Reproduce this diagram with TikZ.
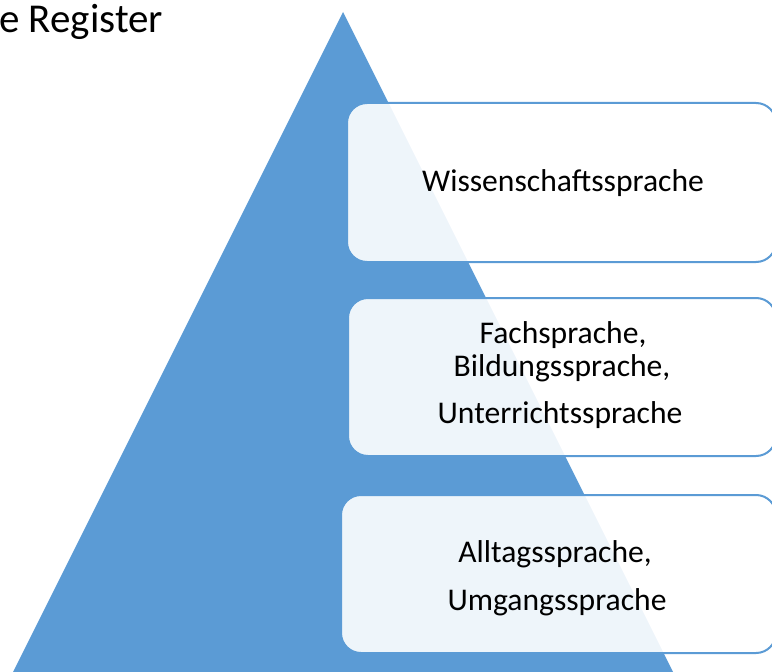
\documentclass[tikz,border=0pt]{standalone}
\usepackage{fontspec}
\setmainfont{Carlito}
\definecolor{triblue}{HTML}{5B9BD5}
\begin{document}
\begin{tikzpicture}[x=1bp,y=-1bp,
  box/.style={draw=triblue, line width=2bp, fill=white, fill opacity=0.9, rounded corners=20bp, inner sep=0pt},
  lbl/.style={font=\fontsize{31.6bp}{38bp}\selectfont, text=black, inner sep=0pt, anchor=base},
  ttl/.style={font=\fontsize{41bp}{49bp}\selectfont, text=black, inner sep=0pt, anchor=base west}]
\clip (0,0) rectangle (772,672);
\fill[triblue] (343,12) -- (3,692) -- (683,692) -- cycle;
\node[box, minimum width=429bp, minimum height=159bp] (b1) at (561.5,182.5) {};
\node[box, minimum width=428bp, minimum height=158bp] (b2) at (562,377) {};
\node[box, minimum width=435bp, minimum height=158bp] (b3) at (558.5,574) {};
\node[lbl] (t1) at (563,191) {Wissenschaftssprache};
\node[lbl] (t2a) at (563,343) {Fachsprache,};
\node[lbl] (t2b) at (562,376) {Bildungssprache,};
\node[lbl] (t2c) at (560,423) {Unterrichtssprache};
\node[lbl] (t3a) at (555,562) {Alltagssprache,};
\node[lbl] (t3b) at (557,610) {Umgangssprache};
\node[ttl] (title) at (-1,33) {e Register};
\end{tikzpicture}
\end{document}
